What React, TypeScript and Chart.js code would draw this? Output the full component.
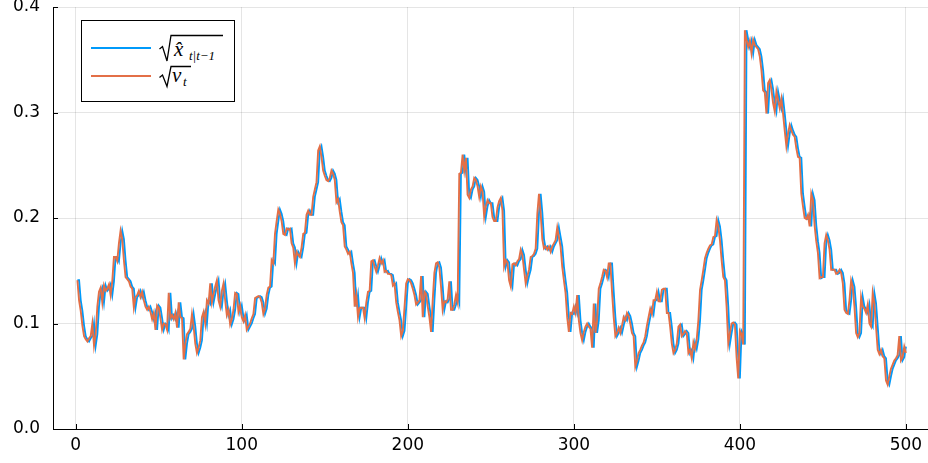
import React, { useEffect, useRef } from "react";
import { Chart, registerables } from "chart.js";

Chart.register(...registerables);

// v_t (orange), t = 1..500
const V_T: number[] = [
  0.141,0.122,0.112,0.098,0.088,0.085,0.083,0.086,0.088,0.100,
  0.079,0.090,0.116,0.130,0.134,0.120,0.136,0.131,0.133,0.137,
  0.127,0.140,0.163,0.163,0.159,0.176,0.188,0.180,0.160,0.144,
  0.142,0.140,0.135,0.133,0.115,0.125,0.127,0.131,0.125,0.130,
  0.122,0.116,0.113,0.116,0.111,0.104,0.110,0.094,0.117,0.115,
  0.105,0.094,0.100,0.099,0.094,0.129,0.105,0.108,0.104,0.110,
  0.096,0.120,0.106,0.105,0.066,0.081,0.090,0.092,0.095,0.109,
  0.097,0.081,0.072,0.077,0.084,0.106,0.111,0.100,0.122,0.119,
  0.138,0.120,0.128,0.135,0.141,0.122,0.116,0.131,0.138,0.122,
  0.108,0.113,0.099,0.104,0.113,0.129,0.128,0.111,0.117,0.106,
  0.102,0.108,0.094,0.097,0.100,0.105,0.109,0.124,0.125,0.126,
  0.125,0.120,0.109,0.114,0.127,0.134,0.135,0.160,0.157,0.185,
  0.197,0.208,0.204,0.197,0.185,0.184,0.190,0.189,0.190,0.176,
  0.172,0.157,0.168,0.165,0.163,0.172,0.185,0.186,0.203,0.207,
  0.203,0.203,0.220,0.227,0.234,0.264,0.268,0.258,0.245,0.240,
  0.236,0.235,0.238,0.245,0.242,0.236,0.215,0.218,0.206,0.196,
  0.193,0.173,0.170,0.166,0.168,0.157,0.148,0.116,0.127,0.106,
  0.115,0.115,0.115,0.105,0.120,0.130,0.131,0.159,0.160,0.154,
  0.149,0.155,0.162,0.157,0.160,0.149,0.150,0.147,0.147,0.146,
  0.136,0.138,0.120,0.111,0.103,0.088,0.093,0.115,0.138,0.142,
  0.141,0.138,0.133,0.127,0.118,0.120,0.122,0.145,0.106,0.130,
  0.128,0.116,0.106,0.092,0.122,0.148,0.157,0.158,0.153,0.135,
  0.113,0.121,0.120,0.123,0.140,0.113,0.113,0.118,0.127,0.120,
  0.242,0.243,0.260,0.245,0.257,0.222,0.219,0.227,0.230,0.238,
  0.236,0.230,0.220,0.230,0.225,0.201,0.211,0.217,0.214,0.214,
  0.201,0.197,0.197,0.210,0.216,0.219,0.207,0.154,0.160,0.158,
  0.141,0.135,0.156,0.157,0.155,0.159,0.161,0.170,0.165,0.151,
  0.138,0.145,0.151,0.163,0.164,0.166,0.171,0.204,0.223,0.205,
  0.180,0.171,0.173,0.170,0.173,0.168,0.173,0.176,0.179,0.191,
  0.182,0.173,0.154,0.141,0.129,0.106,0.092,0.110,0.109,0.116,
  0.110,0.127,0.103,0.091,0.084,0.092,0.097,0.100,0.097,0.095,
  0.077,0.119,0.091,0.103,0.133,0.138,0.144,0.151,0.150,0.144,
  0.157,0.157,0.130,0.106,0.088,0.091,0.096,0.091,0.098,0.106,
  0.103,0.110,0.107,0.100,0.091,0.088,0.059,0.065,0.072,0.075,
  0.079,0.082,0.088,0.098,0.106,0.114,0.109,0.122,0.122,0.130,
  0.121,0.121,0.132,0.133,0.133,0.110,0.110,0.097,0.081,0.072,
  0.075,0.081,0.097,0.099,0.088,0.090,0.093,0.091,0.072,0.075,
  0.067,0.082,0.076,0.085,0.103,0.132,0.141,0.151,0.162,0.167,
  0.171,0.174,0.175,0.182,0.183,0.198,0.192,0.179,0.160,0.144,
  0.141,0.116,0.081,0.091,0.100,0.101,0.099,0.068,0.048,0.093,
  0.090,0.080,0.378,0.369,0.362,0.368,0.356,0.369,0.364,0.362,
  0.360,0.353,0.340,0.321,0.319,0.299,0.328,0.331,0.322,0.309,
  0.301,0.320,0.312,0.304,0.313,0.299,0.283,0.268,0.280,0.288,
  0.283,0.279,0.277,0.266,0.258,0.257,0.223,0.211,0.200,0.199,
  0.203,0.192,0.223,0.217,0.193,0.178,0.167,0.143,0.144,0.144,
  0.176,0.184,0.179,0.170,0.151,0.151,0.151,0.147,0.148,0.151,
  0.148,0.138,0.113,0.110,0.109,0.122,0.141,0.135,0.116,0.091,
  0.087,0.091,0.125,0.116,0.114,0.110,0.118,0.100,0.097,0.129,
  0.119,0.097,0.075,0.071,0.075,0.069,0.067,0.046,0.042,0.050,
  0.057,0.061,0.065,0.067,0.070,0.088,0.065,0.068,0.078,0.072,
];

// sqrt(x̂_{t|t-1}) (blue), t = 1..500
const X_PRED: number[] = [
  0.141,0.141,0.122,0.112,0.098,0.088,0.085,0.083,0.086,0.088,
  0.100,0.079,0.090,0.116,0.130,0.134,0.120,0.136,0.131,0.133,
  0.137,0.127,0.140,0.163,0.163,0.159,0.176,0.188,0.180,0.160,
  0.144,0.142,0.140,0.135,0.133,0.115,0.125,0.127,0.131,0.125,
  0.130,0.122,0.116,0.113,0.116,0.111,0.104,0.110,0.094,0.117,
  0.115,0.105,0.094,0.100,0.099,0.094,0.129,0.105,0.108,0.104,
  0.110,0.096,0.120,0.106,0.105,0.066,0.081,0.090,0.092,0.095,
  0.109,0.097,0.081,0.072,0.077,0.084,0.106,0.111,0.100,0.122,
  0.119,0.138,0.120,0.128,0.135,0.141,0.122,0.116,0.131,0.138,
  0.122,0.108,0.113,0.099,0.104,0.113,0.129,0.128,0.111,0.117,
  0.106,0.102,0.108,0.094,0.097,0.100,0.105,0.109,0.124,0.125,
  0.126,0.125,0.120,0.109,0.114,0.127,0.134,0.135,0.160,0.157,
  0.185,0.197,0.208,0.204,0.197,0.185,0.184,0.190,0.189,0.190,
  0.176,0.172,0.157,0.168,0.165,0.163,0.172,0.185,0.186,0.203,
  0.207,0.203,0.203,0.220,0.227,0.234,0.264,0.268,0.258,0.245,
  0.240,0.236,0.235,0.238,0.245,0.242,0.236,0.215,0.218,0.206,
  0.196,0.193,0.173,0.170,0.166,0.168,0.157,0.148,0.116,0.127,
  0.106,0.115,0.115,0.115,0.105,0.120,0.130,0.131,0.159,0.160,
  0.154,0.149,0.155,0.162,0.157,0.160,0.149,0.150,0.147,0.147,
  0.146,0.136,0.138,0.120,0.111,0.103,0.088,0.093,0.115,0.138,
  0.142,0.141,0.138,0.133,0.127,0.118,0.120,0.122,0.145,0.106,
  0.130,0.128,0.116,0.106,0.092,0.122,0.148,0.157,0.158,0.153,
  0.135,0.113,0.121,0.120,0.123,0.140,0.113,0.113,0.118,0.127,
  0.120,0.242,0.243,0.260,0.245,0.257,0.222,0.219,0.227,0.230,
  0.238,0.236,0.230,0.220,0.230,0.225,0.201,0.211,0.217,0.214,
  0.214,0.201,0.197,0.197,0.210,0.216,0.219,0.207,0.154,0.160,
  0.158,0.141,0.135,0.156,0.157,0.155,0.159,0.161,0.170,0.165,
  0.151,0.138,0.145,0.151,0.163,0.164,0.166,0.171,0.204,0.223,
  0.205,0.180,0.171,0.173,0.170,0.173,0.168,0.173,0.176,0.179,
  0.191,0.182,0.173,0.154,0.141,0.129,0.106,0.092,0.110,0.109,
  0.116,0.110,0.127,0.103,0.091,0.084,0.092,0.097,0.100,0.097,
  0.095,0.077,0.119,0.091,0.103,0.133,0.138,0.144,0.151,0.150,
  0.144,0.157,0.157,0.130,0.106,0.088,0.091,0.096,0.091,0.098,
  0.106,0.103,0.110,0.107,0.100,0.091,0.088,0.059,0.065,0.072,
  0.075,0.079,0.082,0.088,0.098,0.106,0.114,0.109,0.122,0.122,
  0.130,0.121,0.121,0.132,0.133,0.133,0.110,0.110,0.097,0.081,
  0.072,0.075,0.081,0.097,0.099,0.088,0.090,0.093,0.091,0.072,
  0.075,0.067,0.082,0.076,0.085,0.103,0.132,0.141,0.151,0.162,
  0.167,0.171,0.174,0.175,0.182,0.183,0.198,0.192,0.179,0.160,
  0.144,0.141,0.116,0.081,0.091,0.100,0.101,0.099,0.068,0.048,
  0.093,0.090,0.080,0.378,0.369,0.362,0.368,0.356,0.369,0.364,
  0.362,0.360,0.353,0.340,0.321,0.319,0.299,0.328,0.331,0.322,
  0.309,0.301,0.320,0.312,0.304,0.313,0.299,0.283,0.268,0.280,
  0.288,0.283,0.279,0.277,0.266,0.258,0.257,0.223,0.211,0.200,
  0.199,0.203,0.192,0.223,0.217,0.193,0.178,0.167,0.143,0.144,
  0.144,0.176,0.184,0.179,0.170,0.151,0.151,0.151,0.147,0.148,
  0.151,0.148,0.138,0.113,0.110,0.109,0.122,0.141,0.135,0.116,
  0.091,0.087,0.091,0.125,0.116,0.114,0.110,0.118,0.100,0.097,
  0.129,0.119,0.097,0.075,0.071,0.075,0.069,0.067,0.046,0.042,
  0.050,0.057,0.061,0.065,0.067,0.070,0.088,0.065,0.068,0.078,
];

const X_TICKS: number[] = [0, 100, 200, 300, 400, 500];
const Y_TICKS: number[] = [0, 0.1, 0.2, 0.3, 0.4];
const X_RANGE: number[] = [-13.7, 513.3];
const Y_RANGE: number[] = [0, 0.4];

const BLUE = "#009AFA";
const ORANGE = "#E36F47";
const TICK_FONT = { family: "DejaVu Sans", size: 17 };

const innerTicks = {
  id: "innerTicks",
  afterDraw(chart: any) {
    const { ctx, chartArea, scales } = chart;
    ctx.save();
    ctx.strokeStyle = "#000";
    ctx.lineWidth = 1;
    ctx.beginPath();
    X_TICKS.forEach((v) => {
      const px = Math.round(scales.x.getPixelForValue(v)) + 0.5;
      ctx.moveTo(px, chartArea.bottom);
      ctx.lineTo(px, chartArea.bottom - 5);
    });
    Y_TICKS.forEach((v) => {
      const py = Math.round(scales.y.getPixelForValue(v)) + 0.5;
      ctx.moveTo(chartArea.left, py);
      ctx.lineTo(chartArea.left + 5, py);
    });
    ctx.stroke();
    ctx.restore();
  },
};

export default function App() {
  const ref = useRef<HTMLCanvasElement | null>(null);

  useEffect(() => {
    if (!ref.current) return;
    const chart = new Chart(ref.current, {
      type: "line",
      data: {
        datasets: [
          {
            label: "sqrt(v_t)",
            data: V_T.map((v, i) => ({ x: i + 1, y: v })),
            borderColor: ORANGE,
            borderWidth: 1.9,
            pointRadius: 0,
            tension: 0,
            order: 0,
          },
          {
            label: "sqrt(x̂_{t|t-1})",
            data: X_PRED.map((v, i) => ({ x: i + 1, y: v })),
            borderColor: BLUE,
            borderWidth: 1.9,
            pointRadius: 0,
            tension: 0,
            order: 1,
          },
        ],
      },
      options: {
        animation: false,
        responsive: false,
        devicePixelRatio: 1,
        layout: { padding: { top: 7, right: 0, left: 0, bottom: 0 } },
        plugins: { legend: { display: false }, tooltip: { enabled: false } },
        scales: {
          x: {
            type: "linear",
            min: X_RANGE[0],
            max: X_RANGE[1],
            afterBuildTicks: (s: any) => {
              s.ticks = X_TICKS.map((v) => ({ value: v }));
            },
            afterFit: (s: any) => {
              s.height = 34;
              s.paddingLeft = 0;
              s.paddingRight = 0;
            },
            grid: { color: "rgba(0,0,0,0.1)", lineWidth: 1, drawTicks: false },
            border: { display: true, color: "#000", width: 1 },
            ticks: {
              color: "#000",
              font: TICK_FONT,
              padding: 6,
              maxRotation: 0,
              autoSkip: false,
              callback: (v: any) => String(v),
            },
          },
          y: {
            min: Y_RANGE[0],
            max: Y_RANGE[1],
            afterBuildTicks: (s: any) => {
              s.ticks = Y_TICKS.map((v) => ({ value: v }));
            },
            afterFit: (s: any) => {
              s.width = 53;
              s.paddingTop = 0;
              s.paddingBottom = 0;
            },
            grid: { color: "rgba(0,0,0,0.1)", lineWidth: 1, drawTicks: false },
            border: { display: true, color: "#000", width: 1 },
            ticks: {
              color: "#000",
              font: TICK_FONT,
              padding: 13,
              autoSkip: false,
              callback: (v: any) => Number(v).toFixed(1),
            },
          },
        },
      },
      plugins: [innerTicks],
    });
    return () => chart.destroy();
  }, []);

  const serif = '"Liberation Serif", "DejaVu Serif", serif';
  const abs = (l: number, t: number, extra: any = {}) => ({
    position: "absolute" as const,
    left: l,
    top: t,
    ...extra,
  });

  return (
    <div style={{ position: "absolute", left: 0, top: 0, width: 928, height: 463, background: "#fff" }}>
      <canvas ref={ref} width={928} height={463} style={{ display: "block" }} />
      <div
        style={abs(81, 20, {
          width: 152,
          height: 80,
          border: "1.3px solid #000",
          background: "#fff",
        })}
      />
      <div style={abs(91, 46.5, { width: 60, height: 2, background: BLUE })} />
      <div style={abs(91, 74.5, { width: 60, height: 2, background: ORANGE })} />
      <svg style={abs(0, 0, { width: 928, height: 463, pointerEvents: "none" })} width={928} height={463}>
        <polyline points="159.5,49 162.5,46.5 167,61 171,35.5 223,35.5" fill="none" stroke="#000" strokeWidth={1.3} />
        <polyline points="159.5,77.5 162.5,75 167,86.5 171,66.5 191,66.5" fill="none" stroke="#000" strokeWidth={1.3} />
      </svg>
      <span style={abs(174, 39, { fontFamily: serif, fontStyle: "italic", fontSize: 21, lineHeight: "21px", color: "#000" })}>
        x̂
      </span>
      <span style={abs(189, 48.5, { fontFamily: serif, fontStyle: "italic", fontSize: 13, lineHeight: "13px", color: "#000", whiteSpace: "nowrap" })}>
        t|t−1
      </span>
      <span style={abs(172, 65, { fontFamily: serif, fontStyle: "italic", fontSize: 21, lineHeight: "21px", color: "#000" })}>
        v
      </span>
      <span style={abs(183, 75, { fontFamily: serif, fontStyle: "italic", fontSize: 13, lineHeight: "13px", color: "#000" })}>
        t
      </span>
    </div>
  );
}
